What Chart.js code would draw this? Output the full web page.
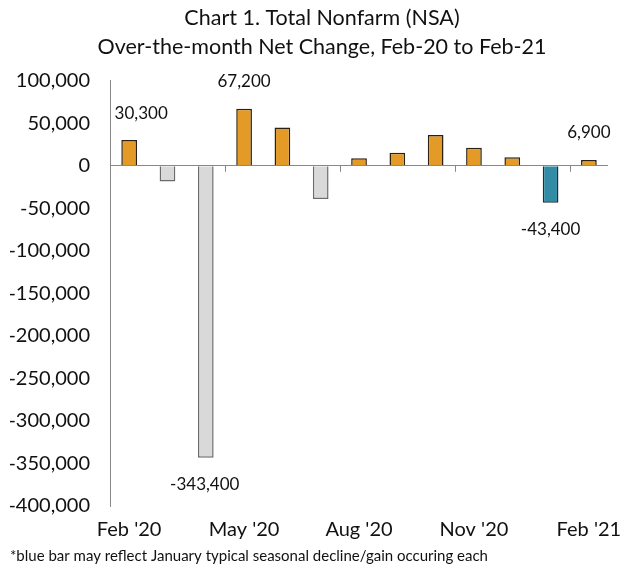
<!DOCTYPE html>
<html>
<head>
<meta charset="utf-8">
<script src="https://cdn.jsdelivr.net/npm/chart.js@4"></script>
<style>
  html, body { margin: 0; padding: 0; background: #fff; }
  #wrap { width: 634px; height: 569px; }
</style>
</head>
<body>
<div id="wrap"><canvas id="chart"></canvas></div>
<script>
// data
const months = ["Feb '20", "Mar '20", "Apr '20", "May '20", "Jun '20", "Jul '20", "Aug '20",
                "Sep '20", "Oct '20", "Nov '20", "Dec '20", "Jan '21", "Feb '21"];
const netChange = [30300, -18500, -343400, 67200, 45000, -39000, 9000, 15300, 36100, 21200, 10200, -43400, 6900];
const labelledBars = [0, 2, 3, 11, 12];
const yTicks = [100000, 50000, 0, -50000, -100000, -150000, -200000, -250000, -300000, -350000, -400000];
const shownMonths = [0, 3, 6, 9, 12];
const blueBar = 11;

const FONT = "Lato, 'DejaVu Sans', sans-serif";

const fill = netChange.map((v, i) => i === blueBar ? '#338ca6' : (v < 0 ? '#d9d9d9' : '#e39a26'));
const edge = netChange.map((v, i) => i === blueBar ? '#1f2f36' : (v < 0 ? '#6b6b6b' : '#2b2014'));

// value labels + small ticks on the zero line
const extras = {
  id: 'extras',
  afterDatasetsDraw(chart) {
    const { ctx, scales: { x, y } } = chart;
    const y0 = y.getPixelForValue(0);
    const half = (x.getPixelForValue(1) - x.getPixelForValue(0)) / 2;
    ctx.save();
    ctx.strokeStyle = '#888';
    ctx.lineWidth = 1;
    [3, 6, 9, 12].forEach(i => {
      const px = Math.round(x.getPixelForValue(i) - half) + 0.5;
      ctx.beginPath();
      ctx.moveTo(px, y0);
      ctx.lineTo(px, y0 + 6);
      ctx.stroke();
    });
    ctx.font = '17px ' + FONT;
    ctx.fillStyle = '#111';
    ctx.textAlign = 'center';
    ctx.textBaseline = 'middle';
    const shift = { 0: 12, 2: -1, 3: 0, 11: 0, 12: 0 };
    labelledBars.forEach(i => {
      const v = netChange[i];
      const px = x.getPixelForValue(i) + shift[i];
      const py = y.getPixelForValue(v) + (v < 0 ? 27 : -27);
      ctx.fillText(v.toLocaleString('en-US'), px, py);
    });
    ctx.restore();
  }
};

new Chart(document.getElementById('chart'), {
  type: 'bar',
  data: {
    labels: months,
    datasets: [{
      data: netChange,
      backgroundColor: fill,
      borderColor: edge,
      borderWidth: 1.5,
      barPercentage: 0.41,
      categoryPercentage: 1
    }]
  },
  options: {
    responsive: true,
    maintainAspectRatio: false,
    animation: false,
    layout: { padding: { left: 10, right: 0, top: 0, bottom: 0 } },
    plugins: {
      legend: { display: false },
      tooltip: { enabled: false },
      title: {
        display: true,
        text: ['Chart 1. Total Nonfarm (NSA)', 'Over-the-month Net Change, Feb-20 to Feb-21'],
        color: '#111',
        font: { family: FONT, size: 21.5, weight: 'normal', lineHeight: 1.32 },
        padding: { top: 4, bottom: 20 }
      },
      subtitle: {
        display: true,
        position: 'bottom',
        align: 'start',
        text: '*blue bar may reflect January typical seasonal decline/gain occuring each',
        color: '#111',
        font: { family: FONT, size: 15, weight: 'normal' },
        padding: { top: 3, bottom: 4 }
      }
    },
    scales: {
      x: {
        grid: { display: false, drawTicks: false },
        border: { display: false },
        afterFit: axis => { axis.height = 38; },
        ticks: {
          autoSkip: false,
          maxRotation: 0,
          color: '#111',
          font: { family: FONT, size: 20 },
          padding: 12,
          callback: (val, i) => shownMonths.includes(i) ? months[i] : ''
        }
      },
      y: {
        min: yTicks[yTicks.length - 1],
        max: yTicks[0],
        afterBuildTicks: axis => { axis.ticks = yTicks.map(v => ({ value: v })); },
        afterFit: axis => { axis.width = 100; },
        border: { display: true, color: '#888', width: 1 },
        grid: {
          drawTicks: false,
          color: ctx => ctx.tick && ctx.tick.value === 0 ? '#888' : 'rgba(0,0,0,0)'
        },
        ticks: {
          color: '#111',
          font: { family: FONT, size: 20 },
          padding: 20,
          callback: v => v.toLocaleString('en-US')
        }
      },
      // empty right margin so the title centres like the original
      pad: {
        position: 'right',
        display: true,
        grid: { display: false, drawTicks: false },
        border: { display: false },
        ticks: { display: false },
        afterFit: axis => { axis.width = 21; }
      }
    }
  },
  plugins: [extras]
});
</script>
</body>
</html>
